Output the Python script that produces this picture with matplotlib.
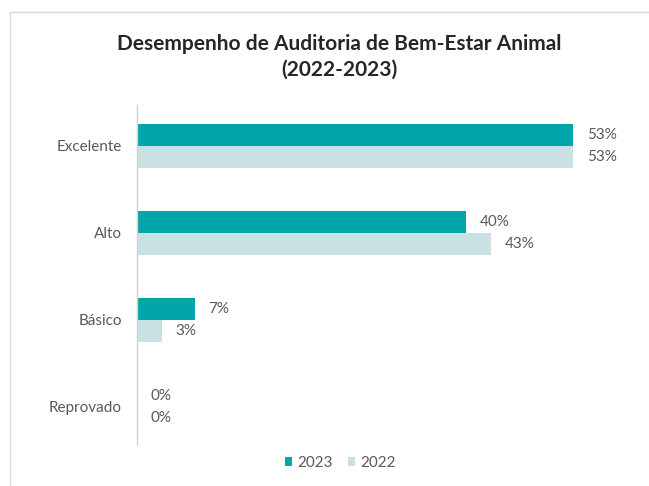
import matplotlib.pyplot as plt
import numpy as np
from matplotlib.patches import Rectangle

categories = ["Excelente", "Alto", "Básico", "Reprovado"]
values_2023 = [53, 40, 7, 0]
values_2022 = [53, 43, 3, 0]
labels_2023 = ["53%", "40%", "7%", "0%"]
labels_2022 = ["53%", "43%", "3%", "0%"]

c2023 = "#00A6A9"
c2022 = "#C9E1E3"
text_gray = "#595959"

plt.rcParams['font.family'] = ['Lato', 'DejaVu Sans']

fig = plt.figure(figsize=(6.49, 4.86), dpi=100)
# light frame around the chart area
fig.patches.append(Rectangle((10 / 649, -0.05), 1.0, 1 - 12 / 486 + 0.05,
                             transform=fig.transFigure, fill=False,
                             edgecolor="#D9D9D9", linewidth=1.0))

ax = fig.add_axes([137 / 649, 1 - 445 / 486, (620 - 137) / 649, (445 - 105) / 486])

y = np.arange(len(categories))
h = 0.255
b1 = ax.barh(y - h / 2, values_2023, height=h, color=c2023, label="2023")
b2 = ax.barh(y + h / 2, values_2022, height=h, color=c2022, label="2022")

for i in range(len(categories)):
    ax.text(values_2023[i] + 1.7, y[i] - h / 2, labels_2023[i], va="center", ha="left",
            fontsize=11, color=text_gray)
    ax.text(values_2022[i] + 1.7, y[i] + h / 2, labels_2022[i], va="center", ha="left",
            fontsize=11, color=text_gray)

ax.set_xlim(0, 58.7)
ax.set_ylim(3.44, -0.47)
ax.set_yticks(y)
ax.set_yticklabels(categories, fontsize=11, color=text_gray)
ax.tick_params(axis="y", length=0, pad=11)
ax.set_xticks([])
for s in ["top", "right", "bottom"]:
    ax.spines[s].set_visible(False)
ax.spines["left"].set_color("#D0D0D0")
ax.spines["left"].set_linewidth(1.0)

fig.text(339 / 649, 1 - 44 / 486, "Desempenho de Auditoria de Bem-Estar Animal",
         ha="center", va="center", fontsize=15, fontweight="bold", color="#262626")
fig.text(339 / 649, 1 - 70 / 486, "(2022-2023)",
         ha="center", va="center", fontsize=15, fontweight="bold", color="#262626")

fig.legend(handles=[b1, b2], labels=["2023", "2022"], loc="center",
           bbox_to_anchor=(340 / 649, 1 - 463 / 486), ncol=2, frameon=False,
           fontsize=11, handlelength=0.5, handleheight=0.5, handletextpad=0.3,
           columnspacing=1.0, labelcolor=text_gray)

fig.savefig("out.png", dpi=100)
